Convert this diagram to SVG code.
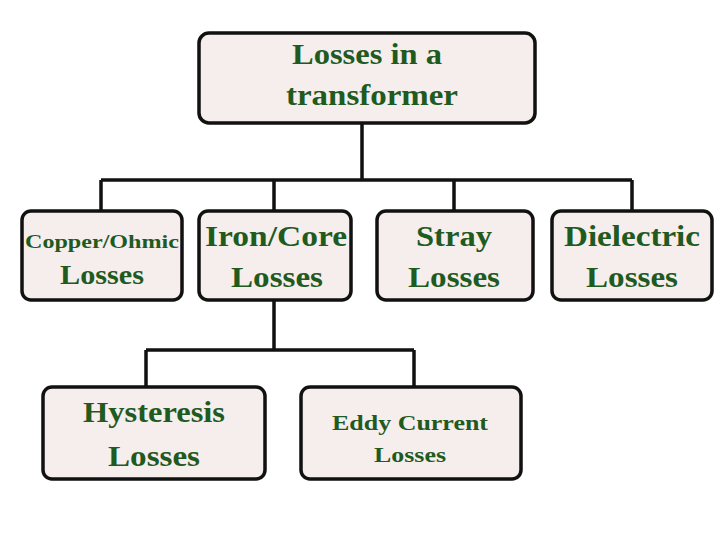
<svg xmlns="http://www.w3.org/2000/svg" width="720" height="539" viewBox="0 0 720 539">
<style>
.b{fill:#f6eded;stroke:#111;stroke-width:3.5}
.t{font-family:"Liberation Serif",serif;font-weight:bold;fill:#1f5a1f;text-anchor:middle}
.c{fill:none;stroke:#111;stroke-width:3.5}
</style>
<rect width="720" height="539" fill="#fff"/>
<g id="connectors">
<path class="c" d="M362 123V180M101 180H632M101 180V211M274 180V211M454 180V211M632 180V211"/>
<path class="c" d="M274 300V350M146 350H414M146 350V387M414 350V387"/>
</g>
<g id="root"><rect class="b" x="199" y="33" width="336" height="90" rx="10"/>
<text class="t" x="367" y="64" font-size="29" textLength="150" lengthAdjust="spacingAndGlyphs">Losses in a</text>
<text class="t" x="372" y="105" font-size="29" textLength="172" lengthAdjust="spacingAndGlyphs">transformer</text></g>
<g id="copper"><rect class="b" x="22" y="211" width="160" height="89" rx="9"/>
<text class="t" x="102" y="248" font-size="19" textLength="154" lengthAdjust="spacingAndGlyphs">Copper/Ohmic</text>
<text class="t" x="102" y="284" font-size="27" textLength="84" lengthAdjust="spacingAndGlyphs">Losses</text></g>
<g id="iron"><rect class="b" x="199" y="211" width="152" height="89" rx="9"/>
<text class="t" x="276" y="246" font-size="29" textLength="142" lengthAdjust="spacingAndGlyphs">Iron/Core</text>
<text class="t" x="277" y="287" font-size="29" textLength="92" lengthAdjust="spacingAndGlyphs">Losses</text></g>
<g id="stray"><rect class="b" x="377" y="211" width="156" height="89" rx="9"/>
<text class="t" x="454" y="246" font-size="29" textLength="76" lengthAdjust="spacingAndGlyphs">Stray</text>
<text class="t" x="454" y="287" font-size="29" textLength="92" lengthAdjust="spacingAndGlyphs">Losses</text></g>
<g id="dielectric"><rect class="b" x="552" y="211" width="160" height="89" rx="9"/>
<text class="t" x="632" y="246" font-size="29" textLength="136" lengthAdjust="spacingAndGlyphs">Dielectric</text>
<text class="t" x="632" y="287" font-size="29" textLength="92" lengthAdjust="spacingAndGlyphs">Losses</text></g>
<g id="hysteresis"><rect class="b" x="43" y="387" width="222" height="92" rx="9"/>
<text class="t" x="154" y="422" font-size="29" textLength="142" lengthAdjust="spacingAndGlyphs">Hysteresis</text>
<text class="t" x="154" y="466" font-size="29" textLength="92" lengthAdjust="spacingAndGlyphs">Losses</text></g>
<g id="eddy"><rect class="b" x="301" y="387" width="220" height="92" rx="9"/>
<text class="t" x="410" y="430" font-size="21" textLength="156" lengthAdjust="spacingAndGlyphs">Eddy Current</text>
<text class="t" x="410" y="462" font-size="21" textLength="72" lengthAdjust="spacingAndGlyphs">Losses</text></g>
</svg>
